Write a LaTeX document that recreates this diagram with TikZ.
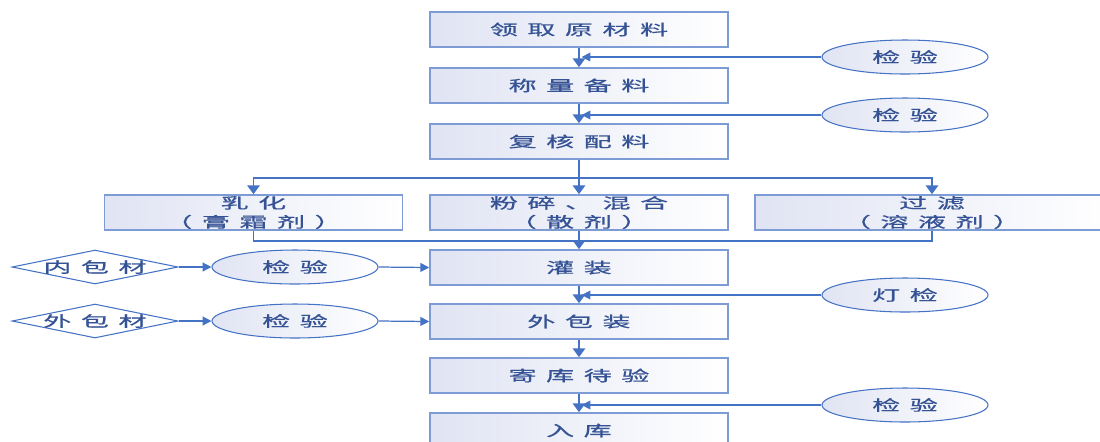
\documentclass[tikz,border=0pt]{standalone}
\usepackage{graphicx}
\usepackage{fontspec}
\newfontfamily\cjk[LetterSpace=34,FakeBold=0.6]{Noto Sans CJK SC}
\newcommand{\wide}[1]{\scalebox{1.9}[1]{#1}}
\usetikzlibrary{arrows.meta,shapes.geometric}
\definecolor{flow}{RGB}{68,114,196}
\definecolor{edge}{RGB}{125,155,212}
\definecolor{ink}{RGB}{52,82,148}
\definecolor{tint}{RGB}{224,228,243}

\begin{document}
\begin{tikzpicture}[x=0.02cm, y=-0.02cm,
    stage/.style={draw=edge, line width=0.9pt, left color=tint, right color=white, minimum width=5.96cm, minimum height=0.7cm, align=center, font=\cjk\fontsize{8.4}{10.8}\selectfont, text=ink, inner sep=0pt},
    check/.style={ellipse, draw=flow, line width=0.6pt, left color=tint, right color=white, minimum width=3.32cm, minimum height=0.68cm, align=center, font=\cjk\fontsize{8.4}{10.8}\selectfont, text=ink, inner sep=0pt},
    stock/.style={diamond, draw=flow, line width=0.6pt, fill=white, minimum width=3.32cm, minimum height=0.68cm, inner sep=0pt, font=\cjk\fontsize{8.4}{10.8}\selectfont, text=ink},
    arr/.style={-{Triangle[length=5pt,width=7pt]}, flow, line width=1.1pt},
    link/.style={flow, line width=1.1pt},
    tarr/.style={-{Triangle[length=5pt,width=5pt]}, flow, line width=0.7pt}
]
\useasboundingbox (0,0) rectangle (1100,441);

\node[stage] (b1) at (579,29.5) {\wide{领取原材料}};
\node[stage] (b2) at (579,85.5) {\wide{称量备料}};
\node[stage] (b3) at (579,141.5) {\wide{复核配料}};
\node[stage] (r1) at (253.5,212.5) {\wide{乳化}\\\wide{（膏霜剂）}};
\node[stage] (r2) at (579,212.5) {\wide{粉碎、混合}\\\wide{（散剂）}};
\node[stage, minimum width=7.08cm] (r3) at (932,212.5) {\wide{过滤}\\\wide{（溶液剂）}};
\node[stage] (b4) at (579,267.5) {\wide{灌装}};
\node[stage] (b5) at (579,321.5) {\wide{外包装}};
\node[stage] (b6) at (579,375.5) {\wide{寄库待验}};
\node[stage] (b7) at (579,430.5) {\wide{入库}};

\node[check] (c1) at (905,57) {\wide{检验}};
\node[check] (c2) at (905,115) {\wide{检验}};
\node[check] (c3) at (905,295) {\wide{灯检}};
\node[check] (c4) at (905,405) {\wide{检验}};
\node[check] (c5) at (295,267) {\wide{检验}};
\node[check] (c6) at (295,321) {\wide{检验}};

\node[stock] (m1) at (95,267) {\makebox[0pt]{\wide{内包材}}};
\node[stock] (m2) at (95,321) {\makebox[0pt]{\wide{外包材}}};

\coordinate (split) at (579,178);
\coordinate (merge) at (579,241);

\draw[arr] (b1) -- (b2);
\draw[arr] (b2) -- (b3);
\draw[link] (b3) -- (split);
\draw[arr] (split) -| (r1.north);
\draw[arr] (split) -| (r3.north);
\draw[arr] (split) -- (r2.north);
\draw[link] (r1.south) |- (merge);
\draw[link] (r3.south) |- (merge);
\draw[arr] (r2.south) -- (b4.north);
\draw[arr] (b4) -- (b5);
\draw[arr] (b5) -- (b6);
\draw[arr] (b6) -- (b7);

\draw[tarr, shorten >=1.5pt] (c1.west) -- (c1.west -| b1.south);
\draw[tarr, shorten >=1.5pt] (c2.west) -- (c2.west -| b2.south);
\draw[tarr, shorten >=1.5pt] (c3.west) -- (c3.west -| b4.south);
\draw[tarr, shorten >=1.5pt] (c4.west) -- (c4.west -| b6.south);

\draw[tarr] (m1.east) -- (c5.west);
\draw[tarr] (c5.east) -- (b4.west);
\draw[tarr] (m2.east) -- (c6.west);
\draw[tarr] (c6.east) -- (b5.west);
\end{tikzpicture}
\end{document}
